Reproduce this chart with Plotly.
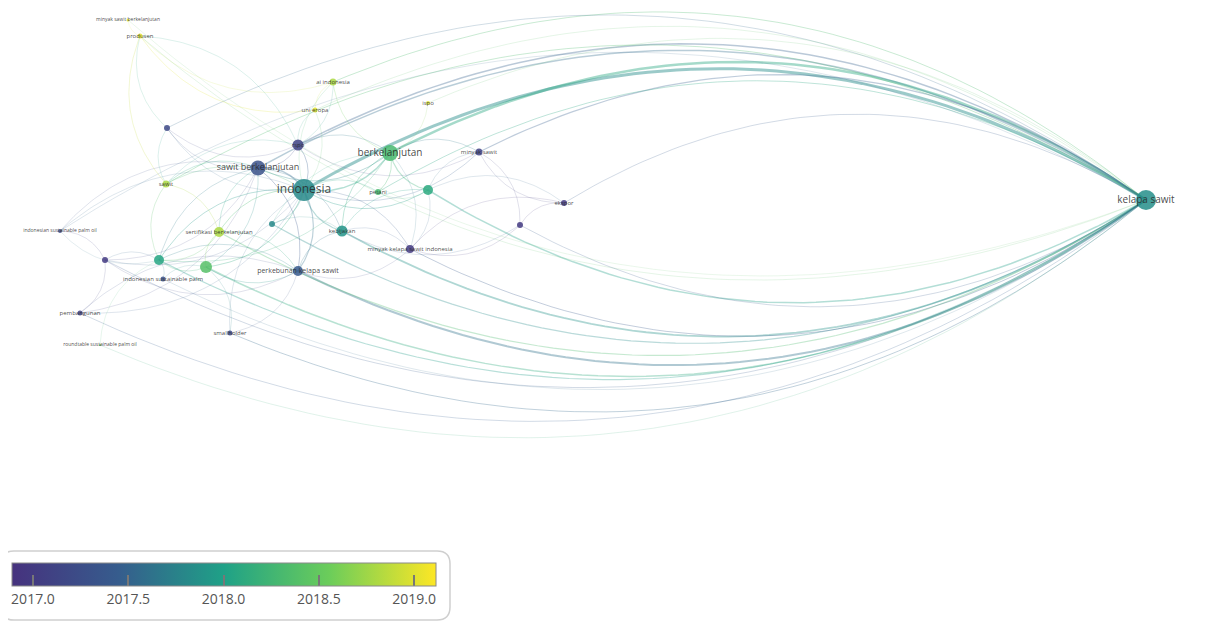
import numpy as np
import plotly.graph_objects as go
from plotly.colors import sample_colorscale

# ---------------- data ----------------
labels = ["kelapa sawit", "indonesia", "sawit berkelanjutan", "berkelanjutan",
          "perkebunan kelapa sawit", "rspo", "ai indonesia", "uni eropa", "ispo",
          "minyak sawit", "", "petani", "kebijakan", "", "sertifikasi berkelanjutan",
          "", "", "", "indonesian sustainable palm", "indonesian sustainable palm oil",
          "pembangunan", "smallholder", "roundtable sustainable palm oil", "", "sawit",
          "produsen", "minyak sawit berkelanjutan", "minyak kelapa sawit indonesia", "", "ekspor"]
node_x = [1146, 304, 258, 390, 298, 298, 333, 315, 428, 479, 428, 378, 342, 272, 219,
          206, 159, 105, 163, 60, 80, 230, 100, 167, 166, 140, 128, 410, 520, 564]
node_y = [200, 190, 168, 153, 271, 145, 82, 110, 103, 152, 190, 192, 231, 224, 232,
          267, 260, 260, 279, 231, 313, 333, 345, 128, 184, 36, 20, 249, 225, 203]
node_year = [2017.85, 2017.8, 2017.3, 2018.3, 2017.4, 2017.1, 2018.8, 2019.0, 2019.0,
             2017.1, 2018.1, 2018.3, 2017.9, 2017.8, 2018.8, 2018.4, 2018.05, 2017.0,
             2017.3, 2017.2, 2017.1, 2017.2, 2018.5, 2017.2, 2018.8, 2019.0, 2019.0,
             2017.0, 2017.0, 2017.0]
node_size = [20, 22, 15, 16, 10, 11, 7, 5, 4, 7, 10, 6, 11, 6, 10, 12, 10, 6, 5, 4,
             5, 5, 2, 6, 7, 5, 3, 8, 6, 6]
label_size = [10, 12, 9, 10, 7, 6, 6, 6, 6, 6, 6, 6, 6, 6, 6, 6, 6, 6, 6, 5, 6, 6, 5,
              6, 6, 6, 5, 6, 6, 6]

# edges: (source, target, bend sign, width)
edges = [
    (0, 1, 1, 3.0), (0, 2, 1, 1.5), (0, 3, 1, 2.5), (0, 4, -1, 2.0), (0, 5, 1, 1.5),
    (0, 6, 1, 1.0), (0, 9, 1, 1.2), (0, 10, -1, 1.5), (0, 11, 1, 1.0), (0, 12, -1, 1.8),
    (0, 13, -1, 1.2), (0, 14, -1, 1.2), (0, 15, -1, 1.5), (0, 16, -1, 1.2), (0, 17, -1, 0.8),
    (0, 19, 1, 0.6), (0, 20, -1, 0.8), (0, 21, -1, 1.0), (0, 22, -1, 0.6), (0, 23, 1, 0.8),
    (0, 24, 1, 1.0), (0, 25, -1, 0.6), (0, 27, -1, 1.0), (0, 28, -1, 0.8), (0, 29, 1, 0.8),
    (0, 7, 1, 0.6), (0, 8, 1, 0.6), (0, 26, -1, 0.5), (0, 18, -1, 0.6),
    (1, 2, 1, 1.5), (1, 3, 1, 1.5), (1, 4, -1, 1.2), (1, 5, 1, 1.0), (1, 10, 1, 1.0),
    (1, 11, -1, 0.8), (1, 12, 1, 1.2), (1, 13, -1, 0.8), (1, 14, 1, 1.0), (1, 15, -1, 1.0),
    (1, 16, 1, 1.0), (1, 17, -1, 0.6), (1, 19, 1, 0.6), (1, 20, -1, 0.6), (1, 21, 1, 0.6),
    (1, 23, -1, 0.6), (1, 24, 1, 0.8), (1, 27, -1, 0.8), (1, 9, 1, 0.8), (1, 6, -1, 0.6),
    (1, 7, 1, 0.6),
    (2, 3, 1, 1.0), (2, 4, -1, 1.0), (2, 5, 1, 0.8), (2, 12, -1, 0.8), (2, 14, 1, 0.8),
    (2, 15, -1, 0.8), (2, 16, 1, 0.8), (2, 17, -1, 0.6), (2, 19, 1, 0.6), (2, 23, -1, 0.6),
    (2, 24, 1, 0.8), (2, 20, -1, 0.6),
    (3, 5, 1, 0.8), (3, 9, -1, 0.8), (3, 10, 1, 1.2), (3, 11, -1, 1.0), (3, 12, 1, 1.0),
    (3, 6, -1, 0.8), (3, 8, 1, 0.6), (3, 27, -1, 0.6), (3, 13, 1, 0.6), (3, 16, -1, 0.8),
    (4, 12, -1, 0.8), (4, 14, 1, 0.8), (4, 15, -1, 0.8), (4, 16, 1, 0.8), (4, 17, -1, 0.6),
    (4, 20, 1, 0.6), (4, 21, -1, 0.6), (4, 27, 1, 0.6),
    (5, 6, 1, 0.6), (5, 7, -1, 0.6), (5, 9, 1, 0.6), (5, 23, -1, 0.6), (5, 24, 1, 0.6),
    (6, 7, 1, 0.6), (6, 25, -1, 0.6),
    (9, 10, 1, 0.6), (9, 28, -1, 0.6), (9, 29, 1, 0.6), (10, 11, -1, 0.6), (10, 12, 1, 0.8),
    (10, 27, -1, 0.6), (12, 13, 1, 0.6), (12, 27, -1, 0.6), (12, 28, 1, 0.6),
    (14, 15, 1, 0.8), (14, 16, -1, 0.8), (14, 24, 1, 0.8), (15, 16, -1, 0.8), (16, 17, 1, 0.6),
    (16, 24, -1, 0.8), (17, 19, 1, 0.6), (17, 20, -1, 0.6), (18, 16, 1, 0.6), (18, 15, -1, 0.6),
    (21, 15, 1, 0.6), (22, 16, -1, 0.5), (23, 24, 1, 0.6), (24, 25, -1, 0.8), (25, 23, 1, 0.6),
    (25, 5, -1, 0.6), (26, 25, 1, 0.5), (25, 7, 1, 0.8),
    (27, 28, 1, 0.6), (28, 29, -1, 0.6), (29, 10, 1, 0.6), (27, 29, -1, 0.6), (19, 16, 1, 0.5),
]

cb_ticks = [2017.0, 2017.5, 2018.0, 2018.5, 2019.0]
cmin, cmax = 2016.89, 2019.115

# ---------------- styling ----------------
cscale = [[0.0, "#46327e"], [0.25, "#365c8d"], [0.5, "#1fa187"],
          [0.75, "#6ccd5a"], [1.0, "#fde725"]]

OFF = 8            # page body margin
W, H = 1205 - OFF, 622 - OFF


def year_color(y, alpha):
    t = min(max((y - cmin) / (cmax - cmin), 0), 1)
    c = sample_colorscale(cscale, [t], colortype="tuple")[0]
    r, g, b = [int(round(v * 255)) if v <= 1 else int(v) for v in c]
    return f"rgba({r},{g},{b},{alpha})"


def px_x(px):
    return (px - OFF) / W


def px_y(py):
    return 1 - (py - OFF) / H


fig = go.Figure()

k = 0.3
ts = np.linspace(0, 1, 60)
for (a, b, s, w) in edges:
    x0, y0, x1, y1 = node_x[a], node_y[a], node_x[b], node_y[b]
    dx, dy = x1 - x0, y1 - y0
    L = np.hypot(dx, dy)
    nx, ny = -dy / L, dx / L
    cx = (x0 + x1) / 2 + s * k * L * nx
    cy = (y0 + y1) / 2 + s * k * L * ny
    bx = (1 - ts) ** 2 * x0 + 2 * (1 - ts) * ts * cx + ts ** 2 * x1
    by = (1 - ts) ** 2 * y0 + 2 * (1 - ts) * ts * cy + ts ** 2 * y1
    yr = (node_year[a] + node_year[b]) / 2
    alpha = 0.22 + 0.08 * w
    fig.add_trace(go.Scatter(x=bx, y=by, mode="lines",
                             line=dict(color=year_color(yr, alpha), width=w),
                             hoverinfo="skip", showlegend=False))

fig.add_trace(go.Scatter(
    x=node_x, y=node_y, mode="markers",
    marker=dict(size=node_size, color=node_year, colorscale=cscale, cmin=cmin, cmax=cmax,
                opacity=0.85, line=dict(width=0),
                colorbar=dict(orientation="h", x=px_x(224), xanchor="center",
                              y=px_y(563), yanchor="top", lenmode="pixels", len=424,
                              thickness=23, xpad=0, ypad=0,
                              outlinecolor="#8a8a8a", outlinewidth=1,
                              tickvals=cb_ticks, ticktext=[f"{t:.1f}" for t in cb_ticks],
                              ticks="inside", ticklen=11, tickcolor="#777", tickwidth=1.5,
                              tickfont=dict(family="Open Sans", size=14, color="#555"))),
    hoverinfo="text", text=labels, showlegend=False))

fig.add_trace(go.Scatter(
    x=node_x, y=node_y, mode="text", text=labels,
    textfont=dict(family="Open Sans", size=label_size, color="rgba(40,40,40,0.85)"),
    textposition="middle center", hoverinfo="skip", showlegend=False))

# rounded legend box
x0, x1, y0, y1, r = 1, 450, 551, 620, 13
path = (f"M {x0+r},{y0} L {x1-r},{y0} Q {x1},{y0} {x1},{y0+r} L {x1},{y1-r} "
        f"Q {x1},{y1} {x1-r},{y1} L {x0+r},{y1} Q {x0},{y1} {x0},{y1-r} "
        f"L {x0},{y0+r} Q {x0},{y0} {x0+r},{y0} Z")
fig.add_shape(type="path", path=path, xref="x", yref="y",
              line=dict(color="#cfcfcf", width=1.5), fillcolor="rgba(0,0,0,0)", layer="below")

fig.update_layout(
    width=W, height=H, margin=dict(l=0, r=0, t=0, b=0, autoexpand=False),
    paper_bgcolor="white", plot_bgcolor="white",
    xaxis=dict(range=[OFF, 1205], visible=False, fixedrange=True),
    yaxis=dict(range=[622, OFF], visible=False, fixedrange=True),
)

fig.write_html("out.html")
